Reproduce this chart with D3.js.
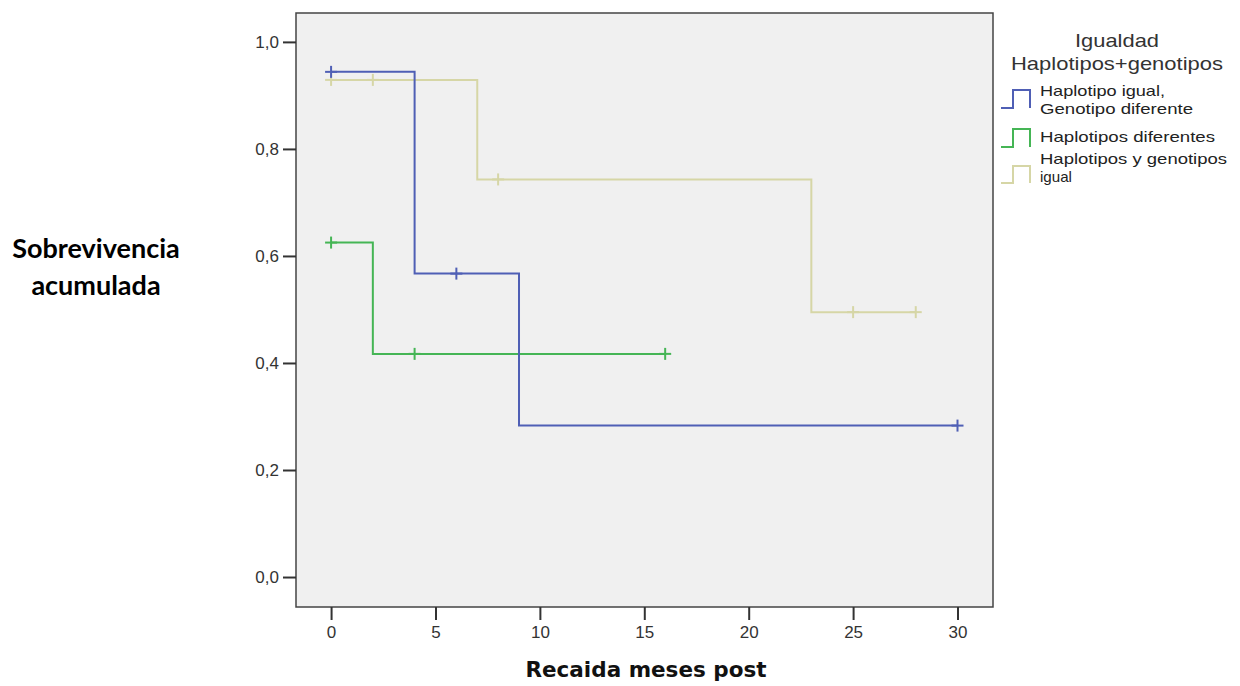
<!DOCTYPE html>
<html>
<head>
  <script src='https://d3js.org/d3.v7.min.js'></script>
  <style>
    body { margin: 0; background: #fff; }
  </style>
</head>
<body>
  <svg id="canvas" width="1240" height="686"></svg>
  <script>
    // survival curves: [time, survival] steps
    const blueSteps = [[0, 0.944], [4, 0.567], [9, 0.283], [30, 0.283]];
    const blueCensor = [[0, 0.944], [6, 0.567], [30, 0.283]];
    const greenSteps = [[0, 0.625], [2, 0.417], [16, 0.417]];
    const greenCensor = [[0, 0.625], [4, 0.417], [16, 0.417]];
    const tanSteps = [[0, 0.929], [7, 0.743], [23, 0.495], [28, 0.495]];
    const tanCensor = [[0, 0.929], [2, 0.929], [8, 0.743], [25, 0.495], [28, 0.495]];

    const xTicks = [0, 5, 10, 15, 20, 25, 30];
    const yTicks = [0, 0.2, 0.4, 0.6, 0.8, 1.0];

    const seriesNames = [['Haplotipo igual,', 'Genotipo diferente'], ['Haplotipos diferentes'], ['Haplotipos y genotipos', 'igual']];
    const seriesColors = ['#4f5fb5', '#45b555', '#d6d6a6'];

    let svg = d3.select('svg#canvas');
    const font = 'Arial, Liberation Sans, sans-serif';

    const plot = { left: 296, top: 13, right: 993, bottom: 607 };
    const xScale = d3.scaleLinear().domain([-1.68, 31.7]).range([plot.left, plot.right]);
    const yScale = d3.scaleLinear().domain([-0.056, 1.054]).range([plot.bottom, plot.top]);

    // plot background
    svg.append('rect')
      .attr('x', plot.left).attr('y', plot.top)
      .attr('width', plot.right - plot.left).attr('height', plot.bottom - plot.top)
      .attr('fill', '#f0f0f0')
      .attr('stroke', '#444').attr('stroke-width', 1.5);

    // axes
    const yAxisG = svg.append('g')
      .attr('transform', `translate(${plot.left},0)`)
      .call(d3.axisLeft(yScale).tickValues(yTicks).tickSize(13).tickPadding(4)
        .tickFormat(d => d3.format('.1f')(d).replace('.', ',')));
    yAxisG.select('.domain').remove();

    const xAxisG = svg.append('g')
      .attr('transform', `translate(0,${plot.bottom})`)
      .call(d3.axisBottom(xScale).tickValues(xTicks).tickSize(13).tickPadding(6));
    xAxisG.select('.domain').remove();

    [yAxisG, xAxisG].forEach(g => {
      g.selectAll('line').attr('stroke', '#333').attr('stroke-width', 2);
      g.selectAll('text')
        .style('font-family', font)
        .style('font-size', '17px')
        .style('fill', '#333');
    });

    // step curves
    const stepLine = d3.line()
      .x(d => xScale(d[0]))
      .y(d => yScale(d[1]))
      .curve(d3.curveStepAfter);

    const curves = [
      [tanSteps, tanCensor, seriesColors[2]],
      [greenSteps, greenCensor, seriesColors[1]],
      [blueSteps, blueCensor, seriesColors[0]]
    ];

    curves.forEach(([steps, censor, color]) => {
      svg.append('path')
        .datum(steps)
        .attr('d', stepLine)
        .attr('fill', 'none')
        .attr('stroke', color)
        .attr('stroke-width', 2);

      // censor marks
      svg.selectAll(null)
        .data(censor)
        .enter()
        .append('line')
        .attr('x1', d => xScale(d[0])).attr('x2', d => xScale(d[0]))
        .attr('y1', d => yScale(d[1]) - 6).attr('y2', d => yScale(d[1]) + 6)
        .attr('stroke', color)
        .attr('stroke-width', 2);

      svg.selectAll(null)
        .data(censor)
        .enter()
        .append('line')
        .attr('x1', d => xScale(d[0]) - 6).attr('x2', d => xScale(d[0]) + 6)
        .attr('y1', d => yScale(d[1])).attr('y2', d => yScale(d[1]))
        .attr('stroke', color)
        .attr('stroke-width', 2);
    });

    // legend
    const legend = svg.append('g');
    [['Igualdad', 47, 84], ['Haplotipos+genotipos', 70, 212]].forEach(([t, y, w]) => {
      legend.append('text')
        .attr('x', 1117).attr('y', y)
        .attr('text-anchor', 'middle')
        .attr('textLength', w)
        .attr('lengthAdjust', 'spacingAndGlyphs')
        .text(t)
        .style('font-family', font)
        .style('font-size', '19px')
        .style('fill', '#333');
    });

    const itemLayout = [
      { top: 90, bottom: 108, baselines: [96, 114], widths: [125, 153] },
      { top: 129, bottom: 147, baselines: [142], widths: [175] },
      { top: 166, bottom: 183, baselines: [164, 182], widths: [187, 32] }
    ];
    seriesNames.forEach((lines, i) => {
      const L = itemLayout[i];
      legend.append('path')
        .attr('d', `M1001,${L.bottom} H1013 V${L.top} H1030 V${L.bottom}`)
        .attr('fill', 'none')
        .attr('stroke', seriesColors[i])
        .attr('stroke-width', 2);
      lines.forEach((t, j) => {
        legend.append('text')
          .attr('x', 1040)
          .attr('y', L.baselines[j])
          .attr('textLength', L.widths[j])
          .attr('lengthAdjust', 'spacingAndGlyphs')
          .text(t)
          .style('font-family', font)
          .style('font-size', '15px')
          .style('fill', '#222');
      });
    });

    // axis titles
    svg.append('text')
      .attr('x', 646).attr('y', 677)
      .attr('text-anchor', 'middle')
      .text('Recaida meses post')
      .style('font-family', 'DejaVu Sans, sans-serif')
      .style('font-weight', 'bold')
      .style('font-size', '21.5px')
      .style('fill', '#111');

    svg.append('text')
      .attr('x', 96).attr('y', 258)
      .attr('text-anchor', 'middle')
      .text('Sobrevivencia')
      .style('font-family', 'Lato, sans-serif')
      .style('font-weight', 'bold')
      .style('font-size', '27px')
      .style('fill', '#000');
    svg.append('text')
      .attr('x', 96).attr('y', 295)
      .attr('text-anchor', 'middle')
      .text('acumulada')
      .style('font-family', 'Lato, sans-serif')
      .style('font-weight', 'bold')
      .style('font-size', '27px')
      .style('fill', '#000');
  </script>
</body>
</html>
